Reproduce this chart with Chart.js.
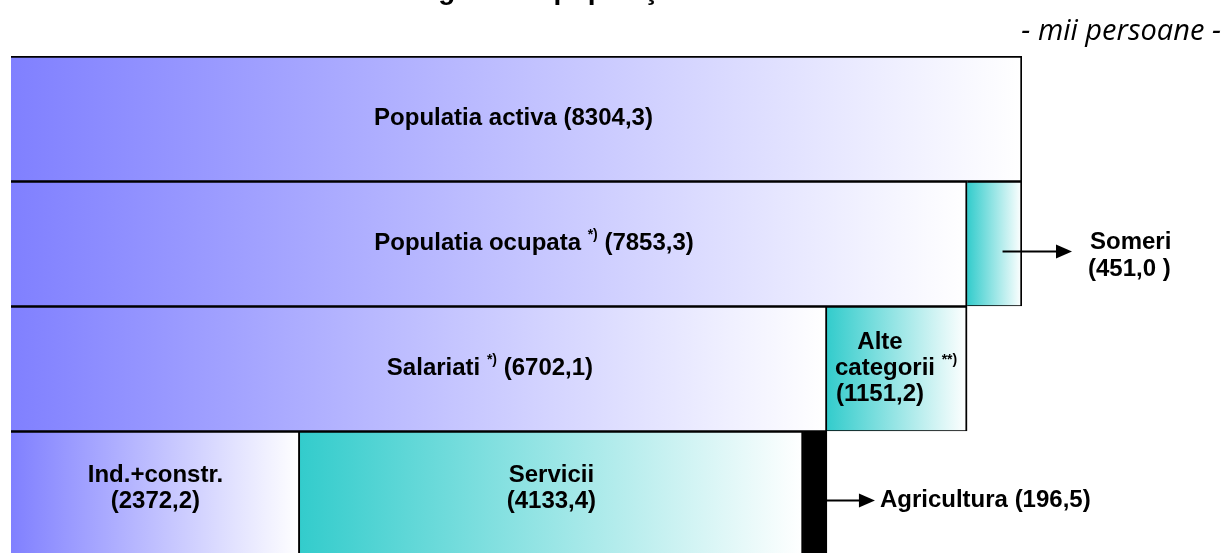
<!DOCTYPE html>
<html>
<head>
<meta charset="utf-8">
<script src="https://cdn.jsdelivr.net/npm/chart.js@4.4.1/dist/chart.umd.min.js"></script>
<style>
  html, body { margin: 0; padding: 0; background: #fff; overflow: hidden; }
  #wrap { width: 1228px; height: 560px; }
</style>
</head>
<body>
<div id="wrap"><canvas id="chart" width="1228" height="560"></canvas></div>
<script>
// rows, top to bottom
const categories = ['Populatia activa', 'Populatia ocupata', 'Salariati', 'Ramuri'];
// first (left) segment of each row
const mainValues = [8304.3, 7853.3, 6702.1, 2372.2];
// second segment: Someri, Alte categorii, Servicii
const secondValues = [null, 451.0, 1151.2, 4133.4];
// third segment: Agricultura
const thirdValues = [null, null, null, 196.5];

const BLUE = '#8080ff';
const TEAL = '#33cccc';

function fmt(v) {
    return '(' + v.toFixed(1).replace('.', ',') + ')';
}

// horizontal gradient over the bar's own extent
function gradientFill(color, series) {
    return function (c) {
        const chart = c.chart;
        const x = chart.scales.x;
        if (c.dataIndex === undefined || !chart.chartArea || !x) return color;
        const i = c.dataIndex;
        let start = 0;
        for (let d = 0; d < series; d++) start += chart.data.datasets[d].data[i] || 0;
        const v = chart.data.datasets[series].data[i];
        if (v == null) return color;
        const x0 = x.getPixelForValue(start), x1 = x.getPixelForValue(start + v);
        const g = chart.ctx.createLinearGradient(x0, 0, x1, 0);
        g.addColorStop(0, color);
        g.addColorStop(1, '#ffffff');
        return g;
    };
}

const FONT = '"Liberation Sans", Arial, sans-serif';

// text made of normal and superscript parts, centred on cx
function drawParts(ctx, parts, cx, y, align) {
    let w = 0;
    parts.forEach(p => {
        ctx.font = p.sup ? 'bold 14px ' + FONT : 'bold 24px ' + FONT;
        w += ctx.measureText(p.t).width;
    });
    let x = align === 'left' ? cx : cx - w / 2;
    ctx.textAlign = 'left';
    parts.forEach(p => {
        ctx.font = p.sup ? 'bold 14px ' + FONT : 'bold 24px ' + FONT;
        ctx.fillText(p.t, x, p.sup ? y - 8 : y);
        x += ctx.measureText(p.t).width;
    });
}

function drawArrow(ctx, x0, x1, y) {
    ctx.beginPath();
    ctx.lineWidth = 2;
    ctx.strokeStyle = '#000';
    ctx.moveTo(x0, y);
    ctx.lineTo(x1 - 14, y);
    ctx.stroke();
    ctx.beginPath();
    ctx.moveTo(x1, y);
    ctx.lineTo(x1 - 16, y - 7);
    ctx.lineTo(x1 - 16, y + 7);
    ctx.closePath();
    ctx.fill();
}

const labelsPlugin = {
    id: 'labels',
    afterDatasetsDraw(chart) {
        const ctx = chart.ctx;
        const m0 = chart.getDatasetMeta(0).data;
        const m1 = chart.getDatasetMeta(1).data;
        const m2 = chart.getDatasetMeta(2).data;
        const mid = b => (b.base + b.x) / 2;

        ctx.save();
        ctx.fillStyle = '#000';

        // title, cut by the top edge
        ctx.textBaseline = 'alphabetic';
        ctx.font = 'bold 28px ' + FONT;
        const before = 'Categorii ale ';
        const titleX = 562 - ctx.measureText(before).width - ctx.measureText('p').width / 2;
        ctx.textAlign = 'left';
        ctx.fillText(before + 'populaţiei', titleX, -1);

        // unit
        ctx.textBaseline = 'middle';
        ctx.font = 'italic 29px "Open Sans", sans-serif';
        ctx.textAlign = 'right';
        ctx.fillText('- mii persoane -', 1221, 32);

        // row 1
        let b = m0[0];
        drawParts(ctx, [{t: categories[0] + ' ' + fmt(mainValues[0])}], mid(b) - 3, b.y);

        // row 2
        b = m0[1];
        drawParts(ctx, [{t: categories[1] + ' '}, {t: '*)', sup: true}, {t: ' ' + fmt(mainValues[1])}], mid(b) + 45, b.y);
        b = m1[1];
        drawArrow(ctx, mid(b) + 8, b.x + 50, b.y + 8);
        drawParts(ctx, [{t: 'Someri'}], b.x + 68, b.y - 1, 'left');
        drawParts(ctx, [{t: '(451,0 )'}], b.x + 66, b.y + 26, 'left');

        // row 3
        b = m0[2];
        drawParts(ctx, [{t: categories[2] + ' '}, {t: '*)', sup: true}, {t: ' ' + fmt(mainValues[2])}], mid(b) + 71, b.y);
        b = m1[2];
        drawParts(ctx, [{t: 'Alte'}], mid(b) - 17, b.y - 26);
        drawParts(ctx, [{t: 'categorii '}, {t: '**)', sup: true}], b.base + 8, b.y, 'left');
        drawParts(ctx, [{t: fmt(secondValues[2])}], b.base + 9, b.y + 26, 'left');

        // row 4
        b = m0[3];
        drawParts(ctx, [{t: 'Ind.+constr.'}], mid(b), b.y - 18);
        drawParts(ctx, [{t: fmt(mainValues[3])}], mid(b), b.y + 8);
        b = m1[3];
        drawParts(ctx, [{t: 'Servicii'}], mid(b), b.y - 18);
        drawParts(ctx, [{t: fmt(secondValues[3])}], mid(b), b.y + 8);
        b = m2[3];
        drawArrow(ctx, b.x, b.x + 48, b.y + 7);
        drawParts(ctx, [{t: 'Agricultura ' + fmt(thirdValues[3])}], b.x + 53, b.y + 7, 'left');

        ctx.restore();
    }
};

const common = {
    barPercentage: 1,
    categoryPercentage: 1,
    borderColor: '#000000',
    borderWidth: {top: 2, right: 2, bottom: 1, left: 0},
    borderSkipped: false
};

new Chart(document.getElementById('chart').getContext('2d'), {
    type: 'bar',
    data: {
        labels: categories,
        datasets: [
            Object.assign({label: 'main', data: mainValues, backgroundColor: gradientFill(BLUE, 0)}, common),
            Object.assign({label: 'second', data: secondValues, backgroundColor: gradientFill(TEAL, 1)}, common),
            Object.assign({label: 'third', data: thirdValues, backgroundColor: '#000000'}, common)
        ]
    },
    options: {
        indexAxis: 'y',
        responsive: false,
        devicePixelRatio: 1,
        animation: false,
        layout: {padding: {left: 11, right: 206, top: 56, bottom: 4}},
        scales: {
            x: {type: 'linear', min: 0, max: mainValues[0], stacked: true, display: false},
            y: {stacked: true, display: false}
        },
        plugins: {
            legend: {display: false},
            tooltip: {enabled: false}
        }
    },
    plugins: [labelsPlugin]
});
</script>
</body>
</html>
